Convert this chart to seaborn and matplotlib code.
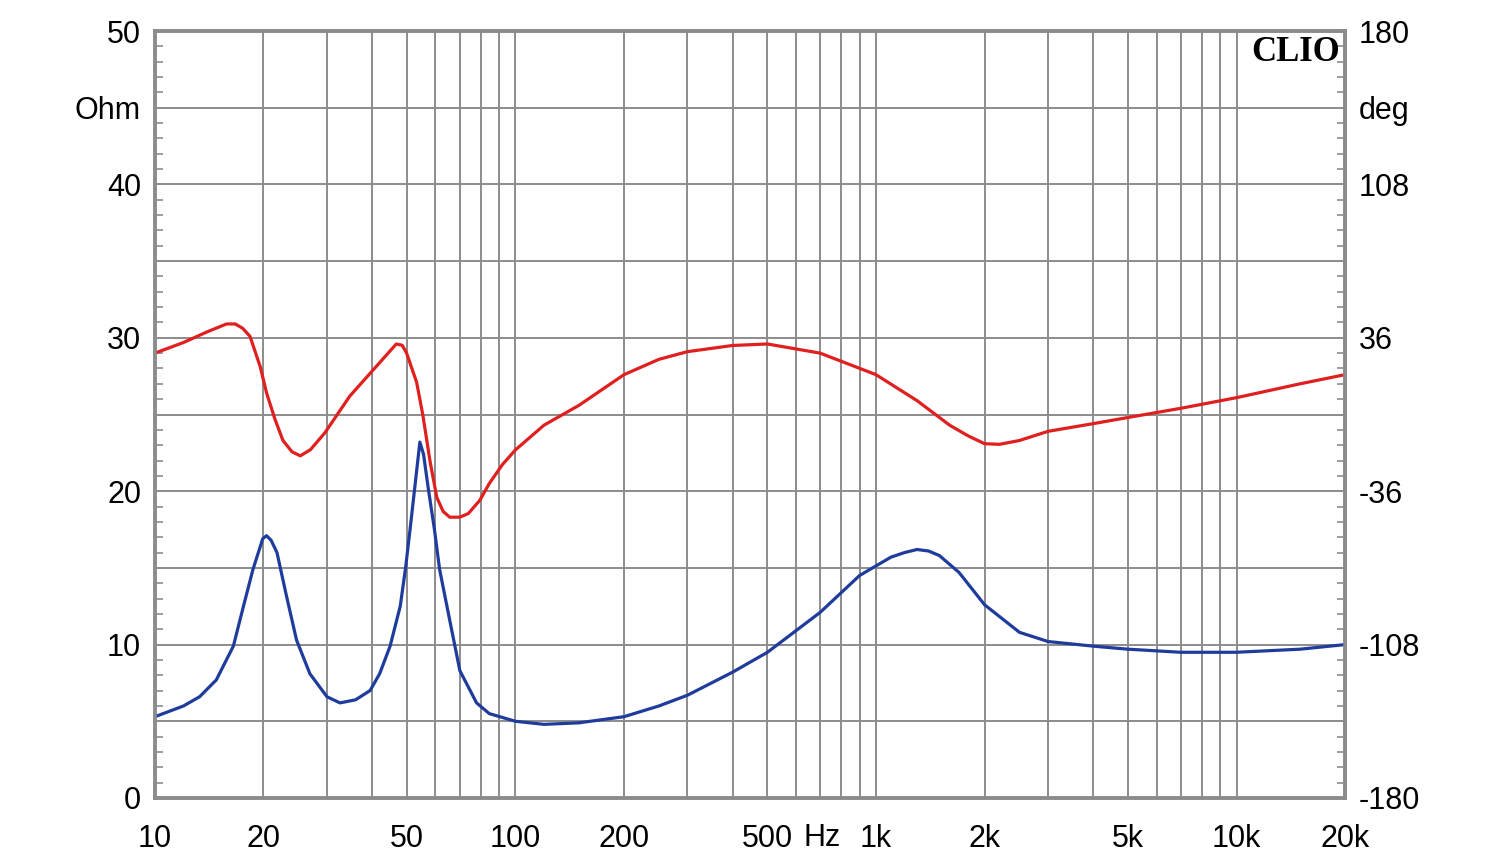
import matplotlib
matplotlib.use("Agg")
import matplotlib.pyplot as plt
import matplotlib.ticker as mticker
import matplotlib.transforms as mtrans
import numpy as np
import pandas as pd
import seaborn as sns

# impedance magnitude (Ohm)
imp_freq = [10, 12, 13.3, 14.8, 16.5, 17.6, 18.7, 19.6, 19.9, 20.4, 21.0, 21.8, 23.2,
            24.7, 26.9, 30, 32.6, 36, 39.5, 42, 44.9, 47.9, 49.5, 51, 52.6, 54.3, 55.6,
            57.2, 59.6, 61.6, 65.7, 70.1, 78, 84.6, 100, 120, 150, 200, 250, 300, 400,
            500, 700, 900, 1100, 1200, 1300, 1400, 1500, 1700, 2000, 2500, 3000, 4000,
            5000, 7000, 10000, 15000, 20000]
imp_ohm = [5.3, 6.0, 6.6, 7.7, 9.9, 12.5, 14.9, 16.4, 16.9, 17.1, 16.8, 16.0, 13.1, 10.3,
           8.1, 6.6, 6.2, 6.4, 7.0, 8.1, 9.9, 12.5, 14.9, 17.5, 20.3, 23.2, 22.4, 20.3,
           17.5, 14.9, 11.6, 8.3, 6.2, 5.5, 5.0, 4.8, 4.9, 5.3, 6.0, 6.7, 8.2, 9.5,
           12.1, 14.5, 15.7, 16.0, 16.2, 16.1, 15.8, 14.7, 12.6, 10.8, 10.2, 9.9, 9.7,
           9.5, 9.5, 9.7, 10.0]

# phase (deg)
ph_freq = [10, 12, 14, 15.8, 16.7, 17.5, 18.35, 19.6, 20.4, 21.5, 22.65, 24, 25.3, 27,
           29.6, 34.7, 42.8, 46.7, 48.5, 49.9, 51.5, 53.2, 55.4, 57.9, 60.5, 63, 65.7,
           70, 74, 79.6, 84.6, 92, 100, 120, 150, 200, 250, 300, 400, 500, 700, 1000,
           1300, 1600, 1800, 2000, 2200, 2500, 3000, 4000, 5000, 7000, 10000, 15000,
           20000]
ph_deg = [28.8, 33.8, 38.9, 42.5, 42.5, 40.5, 36.7, 22.3, 10.1, -2.0, -12.2, -17.5,
          -19.4, -16.5, -8.6, 8.6, 25.9, 33.1, 32.5, 28.8, 22.0, 15.1, -0.7, -21.6,
          -38.9, -45.5, -48.2, -48.2, -46.5, -40.3, -32.4, -23.5, -16.6, -5.0, 4.3,
          18.7, 25.9, 29.5, 32.4, 33.1, 28.8, 18.7, 6.5, -5.0, -10.0, -13.7, -14.0,
          -12.2, -7.9, -4.3, -1.4, 2.9, 7.9, 14.4, 18.7]

x_ticks = [10, 20, 50, 100, 200, 500, 1000, 2000, 5000, 10000, 20000]
x_labels = ["10", "20", "50", "100", "200", "500", "1k", "2k", "5k", "10k", "20k"]
left_ticks = [0, 10, 20, 30, 40, 45, 50]
left_labels = ["0", "10", "20", "30", "40", "Ohm", "50"]
right_ticks = [-180, -108, -36, 36, 108, 144, 180]
right_labels = ["-180", "-108", "-36", "36", "108", "deg", "180"]

imp = pd.DataFrame({"freq": imp_freq, "ohm": imp_ohm})
ph = pd.DataFrame({"freq": ph_freq, "deg": ph_deg})

sns.set_style("white")
plt.rcParams["font.family"] = ["Liberation Sans", "DejaVu Sans"]
plt.rcParams["text.color"] = "black"
plt.rcParams["xtick.labelcolor"] = "black"
plt.rcParams["ytick.labelcolor"] = "black"

GRID = "#8c8c8c"
fig = plt.figure(figsize=(15, 8.64), dpi=100)
ax = fig.add_axes([0.1033, 0.0764, 0.7934, 0.8877])

sns.lineplot(data=imp, x="freq", y="ohm", ax=ax, color="#1f3c9c", lw=2.3, zorder=3)
ax.set_xscale("log")
ax.set_xlim(10, 20000)
ax.set_ylim(0, 50)

ax.xaxis.set_major_locator(mticker.FixedLocator(x_ticks))
ax.xaxis.set_major_formatter(mticker.FixedFormatter(x_labels))
ax.xaxis.set_minor_locator(mticker.LogLocator(base=10, subs=np.arange(1, 10), numticks=20))
ax.xaxis.set_minor_formatter(mticker.NullFormatter())
ax.set_yticks(np.arange(0, 51, 5))
ax.yaxis.set_major_formatter(mticker.FixedFormatter(
    [dict(zip(left_ticks, left_labels)).get(v, "") for v in range(0, 51, 5)]))
ax.yaxis.set_minor_locator(mticker.MultipleLocator(1))

ax.grid(True, which="both", axis="x", color=GRID, lw=1.4)
ax.grid(True, which="major", axis="y", color=GRID, lw=1.4)
ax.set_axisbelow(True)
ax.tick_params(axis="x", which="both", length=0, pad=19, labelsize=22)
ax.tick_params(axis="y", which="major", length=0, pad=10, labelsize=22)
ax.tick_params(axis="y", which="minor", direction="in", length=6, width=1.2, color=GRID)
ax.set_xlabel("")
ax.set_ylabel("")

ax2 = ax.twinx()
sns.lineplot(data=ph, x="freq", y="deg", ax=ax2, color="#e01f1f", lw=2.3)
ax2.set_ylim(-180, 180)
ax2.set_yticks(np.arange(-180, 181, 36))
ax2.yaxis.set_major_formatter(mticker.FixedFormatter(
    [dict(zip(right_ticks, right_labels)).get(v, "") for v in range(-180, 181, 36)]))
ax2.yaxis.set_minor_locator(mticker.MultipleLocator(7.2))
ax2.tick_params(axis="y", which="major", length=0, pad=10, labelsize=22)
ax2.tick_params(axis="y", which="minor", direction="in", length=6, width=1.2, color=GRID)
ax2.set_ylabel("")
ax2.grid(False)

for a in (ax, ax2):
    for s in a.spines.values():
        s.set_color(GRID)
        s.set_linewidth(2.6)

# "Hz" sits between the 500 and 1k labels
trans = mtrans.blended_transform_factory(ax.transData, ax.transAxes)
ax.text(710, -0.052, "Hz", transform=trans, ha="center", va="center", fontsize=22)

ax2.text(0.996, 0.994, "CLIO", transform=ax2.transAxes, ha="right", va="top",
         fontsize=25, fontweight="bold", family="Liberation Serif", color="black")

fig.savefig("out.png", dpi=100)
